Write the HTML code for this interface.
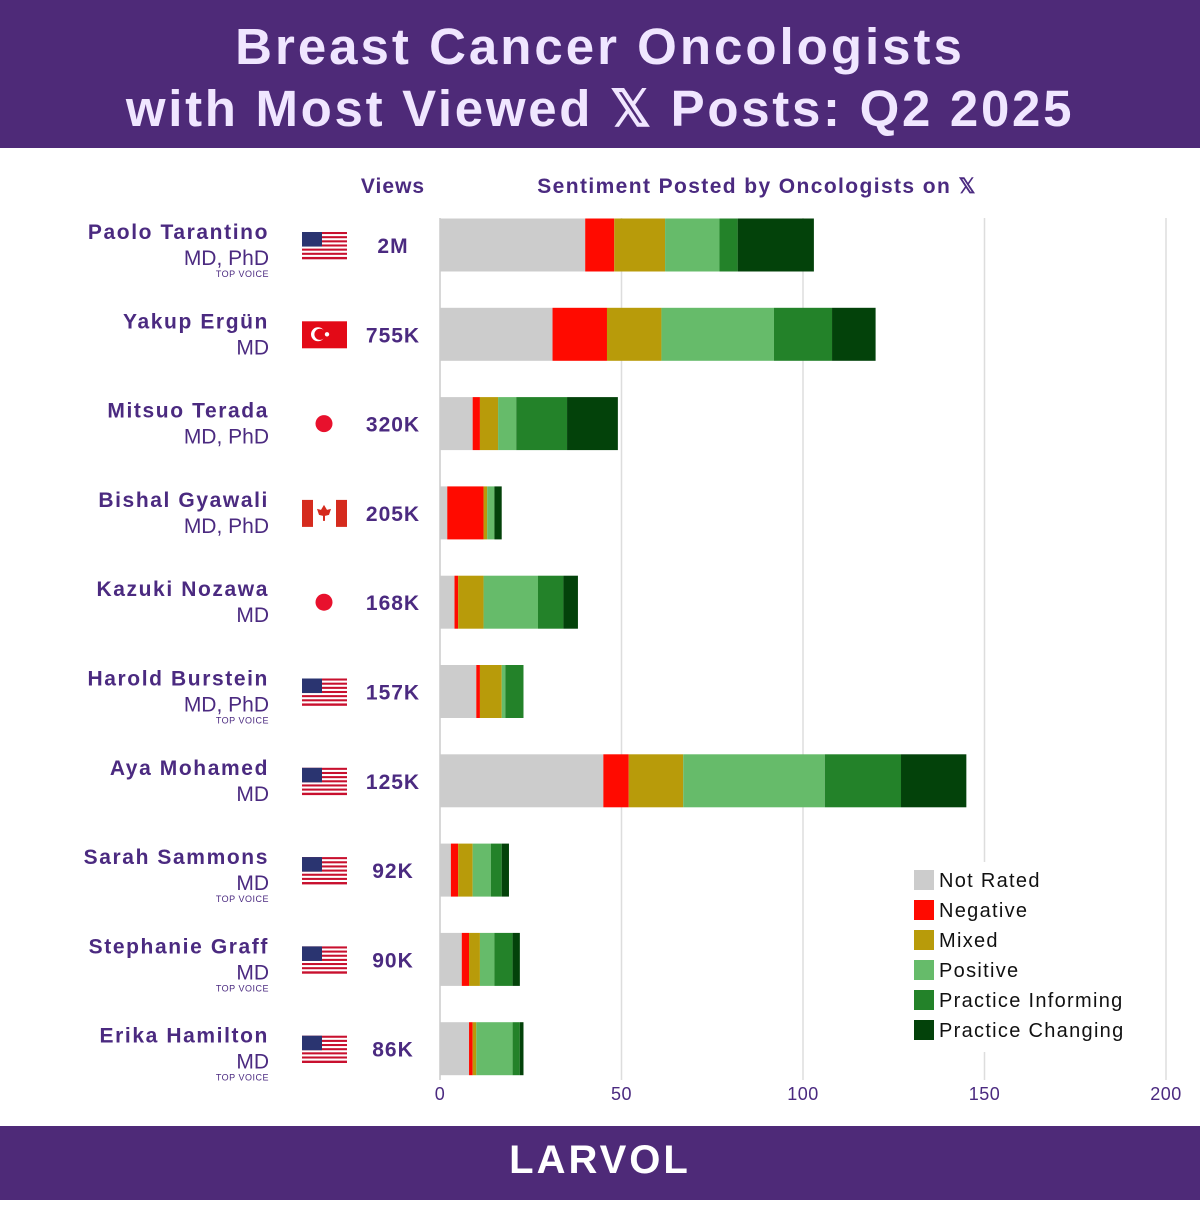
<!DOCTYPE html>
<html><head><meta charset="utf-8"><style>
body{margin:0;width:1200px;height:1200px;overflow:hidden;background:#fff;font-family:"Liberation Sans",sans-serif;}
</style></head><body>
<svg id="chart" width="1200" height="1200" xmlns="http://www.w3.org/2000/svg">
<rect x="0" y="0" width="1200" height="148" fill="#4e2a78"/>
<text x="600" y="64" text-anchor="middle" font-size="51" font-weight="bold" fill="#f0e6ff" letter-spacing="3">Breast Cancer Oncologists</text>
<text x="600" y="126" text-anchor="middle" font-size="51" font-weight="bold" fill="#f0e6ff" letter-spacing="2.7">with Most Viewed 𝕏 Posts: Q2 2025</text>
<text x="393" y="193" text-anchor="middle" font-size="21" font-weight="bold" fill="#4b2a80" letter-spacing="1">Views</text>
<text x="757" y="193" text-anchor="middle" font-size="21" font-weight="bold" fill="#4b2a80" letter-spacing="1.4">Sentiment Posted by Oncologists on 𝕏</text>
<g id="grid"></g><g id="bars"></g><g id="rows"></g><g id="legend"></g>
<rect x="0" y="1126" width="1200" height="74" fill="#4e2a78"/>
<text x="600" y="1173" text-anchor="middle" font-size="40" font-weight="bold" fill="#fff" letter-spacing="3">LARVOL</text>
</svg>
<script>
const names=["Paolo Tarantino","Yakup Ergün","Mitsuo Terada","Bishal Gyawali","Kazuki Nozawa","Harold Burstein","Aya Mohamed","Sarah Sammons","Stephanie Graff","Erika Hamilton"];
const creds=["MD, PhD","MD","MD, PhD","MD, PhD","MD","MD, PhD","MD","MD","MD","MD"];
const topVoice=[true,false,false,false,false,true,false,true,true,true];
const flags=["us","tr","jp","ca","jp","us","us","us","us","us"];
const views=["2M","755K","320K","205K","168K","157K","125K","92K","90K","86K"];
const categories=["Not Rated","Negative","Mixed","Positive","Practice Informing","Practice Changing"];
const notRated=[40,31,9,2,4,10,45,3,6,8];
const negative=[8,15,2,10,1,1,7,2,2,1];
const mixed=[14,15,5,1,7,6,15,4,3,1];
const positive=[15,31,5,2,15,1,39,5,4,10];
const practiceInforming=[5,16,14,0,7,5,21,3,5,2];
const practiceChanging=[21,12,14,2,4,0,18,2,2,1];
const ticks=[0,50,100,150,200];
const colors=["#cccccc","#ff0a00","#b89b0a","#66bb6a","#238229","#03420a"];
const series=[notRated,negative,mixed,positive,practiceInforming,practiceChanging];
const NS="http://www.w3.org/2000/svg";
const x0=440,pxPer=3.63;
const xs=v=>x0+v*pxPer;
const rowY=i=>245+i*89.3;
function mk(t,a,p){const e=document.createElementNS(NS,t);for(const k in a)e.setAttribute(k,a[k]);p.appendChild(e);return e;}
const grid=document.getElementById('grid');
ticks.forEach((t,i)=>{
  if(t>0){const l=mk('line',{x1:xs(t),x2:xs(t),y1:218,y2:1080,stroke:'#dddddd','stroke-width':1.5},grid);
  
  }
  const tx=mk('text',{x:xs(t),y:1100,'text-anchor':'middle','font-size':18,fill:'#4b2a80','letter-spacing':0.5},grid);tx.textContent=t;
  
  
});
const ax=mk('line',{x1:x0,x2:x0,y1:218,y2:1080,stroke:'#cccccc','stroke-width':1.5},grid);


const bars=document.getElementById('bars');
names.forEach((n,i)=>{
  let c=0;const y=rowY(i)-26.5;
  series.forEach((s,j)=>{
    const v=s[i];
    if(v>0){const r=mk('rect',{x:xs(c),y:y,width:v*pxPer,height:53,fill:colors[j]},bars);
    
    }
    c+=v;
  });
});
const rows=document.getElementById('rows');
function flag(type,cx,cy,i){
  const g=mk('g',{},rows);
  
  
  const x=cx-22,y=cy-13,w=45,h=27;
  if(type==='us'){
    for(let k=0;k<13;k++)mk('rect',{x:x,y:y+k*h/13,width:w,height:h/13+0.3,fill:k%2?'#fff':'#c8102e'},g);
    mk('rect',{x:x,y:y,width:20,height:h*7/13,fill:'#2a3470'},g);
  }else if(type==='tr'){
    mk('rect',{x:x,y:y,width:w,height:h,fill:'#e30a17'},g);
    mk('circle',{cx:x+16,cy:cy,r:7,fill:'#fff'},g);
    mk('circle',{cx:x+18,cy:cy,r:5.6,fill:'#e30a17'},g);
    mk('circle',{cx:x+25,cy:cy,r:2.2,fill:'#fff'},g);
  }else if(type==='jp'){
    mk('circle',{cx:cx,cy:cy,r:8.5,fill:'#e8112d'},g);
  }else if(type==='ca'){
    mk('rect',{x:x,y:y,width:w,height:h,fill:'#fff'},g);
    mk('rect',{x:x,y:y,width:11,height:h,fill:'#d52b1e'},g);
    mk('rect',{x:x+w-11,y:y,width:11,height:h,fill:'#d52b1e'},g);
    mk('path',{d:`M${cx} ${cy-8} L${cx+3} ${cy-3} L${cx+7} ${cy-4} L${cx+5} ${cy+2} L${cx+1} ${cy+3} L${cx+1} ${cy+8} L${cx-1} ${cy+8} L${cx-1} ${cy+3} L${cx-5} ${cy+2} L${cx-7} ${cy-4} L${cx-3} ${cy-3}Z`,fill:'#d52b1e'},g);
  }
}
names.forEach((n,i)=>{
  const cy=rowY(i);
  const t1=mk('text',{x:269,y:cy-6,'text-anchor':'end','font-size':21,'font-weight':'bold',fill:'#4b2a80','letter-spacing':1.6},rows);t1.textContent=n;
  
  
  const t2=mk('text',{x:269,y:cy+20,'text-anchor':'end','font-size':21,fill:'#4b2a80'},rows);t2.textContent=creds[i];
  
  
  if(topVoice[i]){const t3=mk('text',{x:269,y:cy+32,'text-anchor':'end','font-size':9,fill:'#4b2a80','letter-spacing':0.5},rows);t3.textContent='TOP VOICE';
  
  }
  flag(flags[i],324,cy,i);
  const tv=mk('text',{x:393,y:cy+8,'text-anchor':'middle','font-size':21,'font-weight':'bold',fill:'#4b2a80','letter-spacing':1},rows);tv.textContent=views[i];
  
  
});
const lg=document.getElementById('legend');
const lb=mk('rect',{x:905,y:862,width:235,height:190,fill:'#fff'},lg);


categories.forEach((c,j)=>{
  const y=870+j*30;
  const g=mk('g',{},lg);
  
  
  mk('rect',{x:914,y:y,width:20,height:20,fill:colors[j]},g);
  const t=mk('text',{x:939,y:y+17,'font-size':20,fill:'#111','letter-spacing':1.3},g);t.textContent=c;
});
</script>
</body></html>
